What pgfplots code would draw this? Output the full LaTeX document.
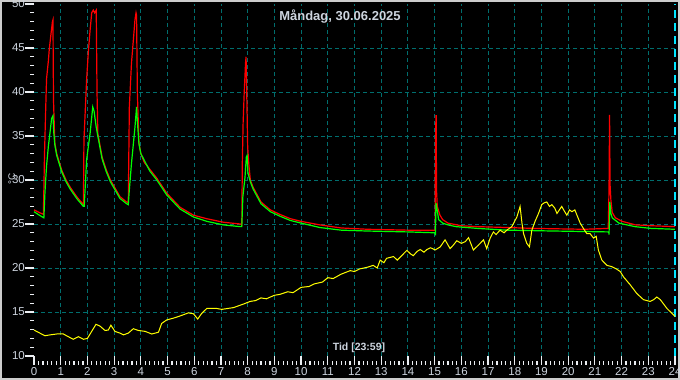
\documentclass[border=0pt]{standalone}
\usepackage{pgfplots}
\pgfplotsset{compat=1.18}
\usepackage{fontspec}
\setmainfont{Liberation Sans}
\definecolor{gridc}{RGB}{0,110,110}
\definecolor{lbl}{RGB}{205,212,222}
\definecolor{tickc}{RGB}{235,238,242}
\definecolor{framec}{RGB}{205,205,205}
\definecolor{redc}{RGB}{255,0,0}
\definecolor{greenc}{RGB}{0,255,0}
\definecolor{yellowc}{RGB}{255,255,0}
\definecolor{edgec}{RGB}{0,230,255}
\begin{document}
\begin{tikzpicture}[x=1pt,y=1pt]
\fill[black] (0,0) rectangle (680,380);
\draw[framec, line width=2pt] (1,1) rectangle (679,379);
\useasboundingbox (0,0) rectangle (680,380);
\begin{axis}[
  at={(34pt,24pt)}, anchor=south west,
  width=641pt, height=352pt, scale only axis,
  xmin=0, xmax=24, ymin=10, ymax=50,
  axis line style={draw=none},
  xtick={0,...,24}, ytick={10,15,...,50},
  major tick length=0pt, minor tick num=0,
  tick style={draw=none},
  ticklabel style={font=\fontsize{11.5}{13}\selectfont, text=lbl},
  xticklabel style={inner sep=1pt, yshift=-10pt},
  yticklabel style={inner sep=0.5pt, xshift=-8.5pt},
  /pgf/number format/assume math mode=true,
  no markers,
  clip=false,
]
\pgfplotsinvokeforeach{1,...,23}{
  \draw[gridc, dash pattern=on 4pt off 3pt, line width=0.9pt] (axis cs:#1,10) -- (axis cs:#1,50);
}
\pgfplotsinvokeforeach{15,20,...,45}{
  \draw[gridc, dash pattern=on 4pt off 3pt, line width=0.9pt] (axis cs:0,#1) -- (axis cs:24,#1);
}
\draw[edgec, dash pattern=on 8pt off 5pt, line width=1.5pt] (axis cs:24,10) -- (axis cs:24,50);
% tick marks
\pgfplotsinvokeforeach{0,...,24}{
  \draw[tickc, line width=1.2pt] (axis cs:#1,10) -- ++(0pt,-9.5pt);
}
\pgfplotsinvokeforeach{0,0.1666667,...,23.9}{
  \draw[tickc, line width=1.2pt] (axis cs:#1,10) ++(0pt,-5.5pt) -- ++(0pt,-4pt);
}
\pgfplotsinvokeforeach{10,15,...,50}{
  \draw[tickc, line width=1.2pt] (axis cs:0,#1) -- ++(-9pt,0pt);
}
\pgfplotsinvokeforeach{10,...,49}{
  \draw[tickc, line width=1.2pt] (axis cs:0,#1) -- ++(-4pt,0pt);
}

\addplot[redc, line width=1.2pt] coordinates {
(0,26.6) (0.2,26.3) (0.35,26.1) (0.37,29) (0.39,32.5) (0.44,38.3) (0.47,41.5) (0.54,43.6) (0.57,44.8) (0.64,46.7) (0.69,48.0) (0.71,48.2)
(0.73,39.1) (0.78,34.2) (0.85,33.0) (1.04,31.1) (1.2,30.0) (1.35,29.2) (1.6,28.1) (1.85,27.2)
(1.87,34.5) (1.97,41.4) (2.04,44.8) (2.1,47.0) (2.16,49.0) (2.22,49.3) (2.27,49.0) (2.33,49.3) (2.36,39.9) (2.39,35.3) (2.55,32.6) (2.7,31.2) (2.86,30.0) (3.05,29.0) (3.22,28.1) (3.47,27.5) (3.53,27.4)
(3.57,38.3) (3.65,43.3) (3.72,45.9) (3.78,48.2) (3.82,49.0) (3.84,48.7) (3.87,39.9) (3.93,34.2) (4.0,33.0) (4.13,32.0) (4.34,31.2) (4.6,30.2) (4.97,28.5) (5.47,26.9) (5.97,26.0) (6.47,25.6) (7.09,25.2) (7.72,25.0) (7.78,24.9)
(7.8,32) (7.83,36.5) (7.87,39.9) (7.9,41.9) (7.92,43.3) (7.94,44.0) (7.97,39.1) (8.0,33.8) (8.04,31.9) (8.1,30.0) (8.2,29.2) (8.5,27.5) (8.85,26.6) (9.2,26.1) (9.6,25.6) (10.0,25.3) (10.7,24.9) (11.5,24.55) (12.5,24.4) (14,24.3) (15.02,24.3)
(15.03,33.8) (15.05,37.3) (15.06,37.3) (15.07,28.9) (15.1,27.0) (15.2,26.0) (15.3,25.5) (15.5,25.1) (16.0,24.8) (16.6,24.7) (17.7,24.6) (18.7,24.5) (20.6,24.4) (21.5,24.5)
(21.53,28.9) (21.55,37.4) (21.57,29.4) (21.6,27.7) (21.65,26.3) (21.77,25.7) (22.02,25.3) (22.52,24.9) (23.14,24.8) (24,24.7)
};

\addplot[greenc, line width=1.2pt] coordinates {
(0,26.4) (0.2,26.0) (0.37,25.7) (0.41,28.6) (0.47,31.6) (0.54,33.9) (0.6,35.4) (0.66,37.0) (0.71,37.3) (0.74,35.4) (0.78,34.0) (0.85,32.8) (1.04,30.9) (1.2,29.8) (1.35,29.0) (1.6,27.9) (1.85,27.0) (1.88,27.0)
(1.97,32.3) (2.1,35.3) (2.2,38.3) (2.25,37.8) (2.33,36.0) (2.39,35.0) (2.55,32.4) (2.7,31.0) (2.86,29.8) (3.05,28.8) (3.22,27.9) (3.47,27.3) (3.53,27.2)
(3.57,28.9) (3.65,31.9) (3.72,34.1) (3.78,36.0) (3.84,38.3) (3.87,36.7) (3.93,34.1) (4.0,33.0) (4.34,31.0) (4.6,30.0) (4.97,28.3) (5.47,26.7) (5.97,25.8) (6.47,25.3) (7.09,24.9) (7.72,24.7) (7.78,24.7)
(7.82,28.1) (7.9,30.3) (7.95,32.6) (7.98,32.8) (8.01,30.8) (8.1,29.8) (8.2,29.0) (8.5,27.3) (8.85,26.4) (9.2,25.9) (9.6,25.4) (10.0,25.1) (10.7,24.6) (11.5,24.3) (12.5,24.2) (14,24.1) (15.02,24.0) (15.03,23.7)
(15.05,27.4) (15.1,26.5) (15.15,25.5) (15.3,25.1) (15.5,24.9) (15.8,24.7) (16.6,24.5) (17.7,24.3) (19.5,24.2) (21.52,24.1) (21.53,23.8)
(21.56,27.5) (21.6,26.2) (21.65,25.7) (21.9,25.1) (22.5,24.7) (23.1,24.5) (24,24.4)
};

\addplot[yellowc, line width=1pt] coordinates {
(0,12.95) (0.22,12.6) (0.41,12.3) (0.6,12.4) (0.85,12.5) (1.1,12.5) (1.28,12.2) (1.47,11.9) (1.66,12.2) (1.85,11.9) (2.0,12.0) (2.16,12.8) (2.32,13.6) (2.47,13.4) (2.66,12.9) (2.78,12.95) (2.88,13.5) (3.03,12.8) (3.22,12.6) (3.35,12.4) (3.53,12.6) (3.72,13.1) (3.91,12.9) (4.16,12.8) (4.41,12.5) (4.66,12.7) (4.78,13.7) (4.97,14.1) (5.22,14.3) (5.47,14.55) (5.78,14.9) (5.97,14.8) (6.13,14.2) (6.28,14.85) (6.47,15.4) (6.84,15.4) (7.03,15.3) (7.47,15.5) (7.84,15.9) (8.09,16.2)
(8.3,16.3) (8.5,16.6) (8.7,16.5) (9.0,16.9) (9.2,17.0) (9.5,17.3) (9.7,17.2) (10.0,17.8) (10.3,17.9) (10.5,18.2) (10.8,18.4) (11.0,18.9) (11.2,18.8) (11.5,19.3) (11.84,19.7) (12.0,19.6) (12.2,19.9) (12.5,20.1) (12.7,20.3) (12.85,20.0) (12.96,20.9) (13.1,20.6) (13.2,21.1) (13.46,21.3) (13.6,20.9) (13.7,21.2) (13.96,22.0) (14.1,21.6) (14.2,21.4) (14.35,21.9) (14.46,22.1) (14.6,21.8) (14.71,22.1) (14.85,22.3) (15.02,22.05)
(15.21,22.4) (15.39,23.2) (15.58,22.2) (15.7,22.6) (15.83,23.1) (16.0,22.8) (16.15,23.0) (16.27,23.45) (16.45,22.05) (16.64,22.6) (16.83,23.2) (16.95,22.2) (17.08,23.4) (17.2,24.1) (17.3,23.8) (17.45,24.3) (17.6,24.0) (17.7,24.3) (17.89,24.7) (18.08,25.8) (18.2,27.0) (18.27,25.1) (18.33,23.9) (18.45,22.8) (18.55,22.4) (18.64,24.3) (18.76,25.3) (18.89,26.2) (19.01,27.2) (19.1,27.4) (19.2,27.5) (19.3,27.0) (19.39,27.2) (19.5,26.8) (19.58,26.2) (19.76,27.0) (19.85,26.5) (19.95,26.0) (20.05,26.6) (20.14,26.4) (20.25,26.6) (20.33,26.0) (20.45,25.1) (20.57,24.5) (20.7,23.9) (20.82,23.9) (20.95,23.4) (21.05,23.6) (21.13,22.05) (21.26,20.9) (21.45,20.3) (21.64,20.15) (21.8,19.9) (21.95,19.6) (22.07,19.0) (22.32,18.1) (22.57,17.1) (22.82,16.4) (23.07,16.2) (23.2,16.4) (23.32,16.7) (23.45,16.4) (23.7,15.4) (24,14.5)
};
\end{axis}
\node[text=lbl, font=\bfseries\fontsize{13}{15}\selectfont] at (340,363) {Måndag, 30.06.2025};
\node[text=lbl, font=\bfseries\fontsize{10.5}{12}\selectfont] at (359,32) {Tid [23:59]};
\node[text=lbl, rotate=90, font=\fontsize{10}{12}\selectfont] at (12,201) {°C};
\end{tikzpicture}
\end{document}
